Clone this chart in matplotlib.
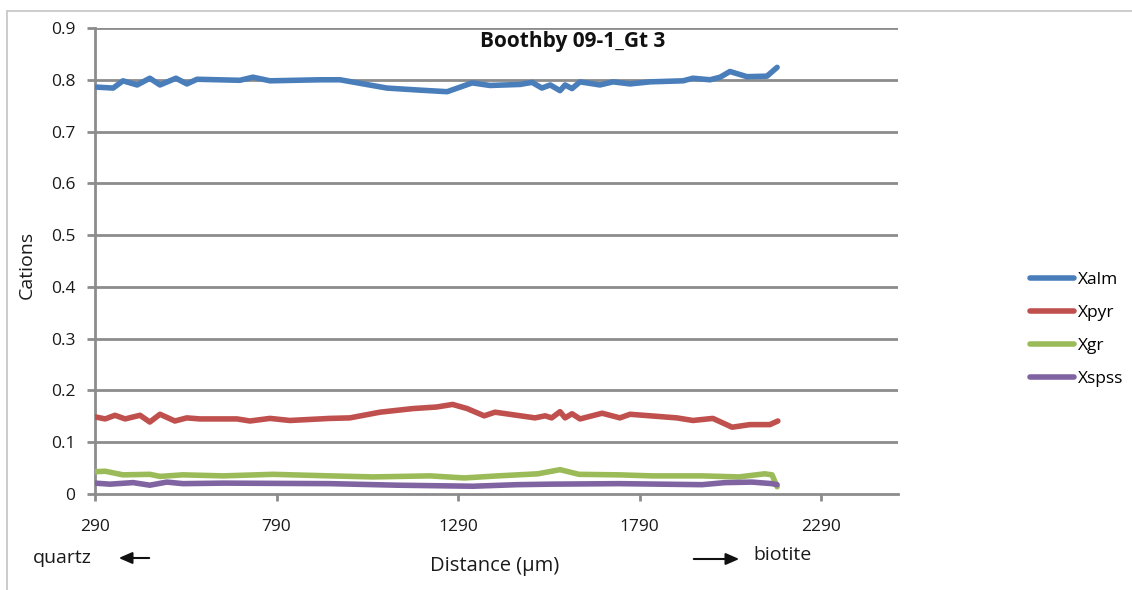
import matplotlib
matplotlib.use("Agg")
import matplotlib.pyplot as plt
from matplotlib.lines import Line2D
from matplotlib.patches import Rectangle, FancyArrowPatch

# Garnet traverse, Boothby 09-1 grain 3: end-member fractions vs distance
alm_x = [290, 340, 367, 406, 441, 469, 513, 543, 571, 689, 725, 772, 910, 965,
         1094, 1185, 1260, 1329, 1378, 1461, 1494, 1521, 1544, 1571, 1585, 1604,
         1626, 1681, 1717, 1764, 1819, 1910, 1937, 1984, 2012, 2039, 2086, 2141, 2169]
alm_y = [0.786, 0.784, 0.798, 0.790, 0.803, 0.790, 0.803, 0.792, 0.801, 0.799, 0.805,
         0.798, 0.800, 0.800, 0.784, 0.780, 0.777, 0.794, 0.789, 0.791, 0.795, 0.784,
         0.790, 0.779, 0.790, 0.783, 0.796, 0.790, 0.796, 0.792, 0.796, 0.798, 0.803,
         0.800, 0.805, 0.816, 0.806, 0.807, 0.824]

pyr_x = [290, 318, 345, 373, 414, 441, 469, 510, 543, 579, 681, 717, 772, 827, 937,
         992, 1075, 1166, 1231, 1275, 1315, 1362, 1392, 1502, 1530, 1548, 1571, 1585,
         1604, 1626, 1687, 1736, 1764, 1893, 1937, 1992, 2045, 2094, 2149, 2171]
pyr_y = [0.149, 0.145, 0.152, 0.145, 0.152, 0.139, 0.154, 0.141, 0.147, 0.145, 0.145,
         0.141, 0.146, 0.142, 0.146, 0.147, 0.158, 0.165, 0.168, 0.173, 0.165, 0.151,
         0.158, 0.147, 0.151, 0.147, 0.159, 0.147, 0.155, 0.145, 0.156, 0.147, 0.154,
         0.147, 0.142, 0.146, 0.129, 0.134, 0.134, 0.141]

gr_x = [290, 318, 367, 441, 469, 532, 643, 780, 937, 1056, 1213, 1307, 1400, 1510,
        1571, 1623, 1733, 1824, 1962, 2064, 2135, 2155, 2169]
gr_y = [0.043, 0.044, 0.037, 0.038, 0.034, 0.037, 0.035, 0.038, 0.035, 0.033, 0.035,
        0.031, 0.035, 0.039, 0.047, 0.038, 0.037, 0.035, 0.035, 0.033, 0.039, 0.037,
        0.014]

spss_x = [290, 331, 395, 441, 488, 532, 643, 937, 1122, 1331, 1452, 1544, 1733,
          1962, 2026, 2100, 2155, 2169]
spss_y = [0.021, 0.019, 0.022, 0.017, 0.023, 0.020, 0.021, 0.020, 0.017, 0.015,
          0.018, 0.019, 0.020, 0.018, 0.022, 0.023, 0.020, 0.018]

series_names = ["Xalm", "Xpyr", "Xgr", "Xspss"]
series_colors = ["#4A7EBB", "#C0504D", "#9BBB59", "#8064A2"]

x_ticks = [290, 790, 1290, 1790, 2290]
y_ticks = [0, 0.1, 0.2, 0.3, 0.4, 0.5, 0.6, 0.7, 0.8, 0.9]
y_tick_labels = ["0", "0.1", "0.2", "0.3", "0.4", "0.5", "0.6", "0.7", "0.8", "0.9"]

plt.rcParams["font.family"] = ["Open Sans", "DejaVu Sans"]

W, H = 1132, 590
fig = plt.figure(figsize=(W / 100, H / 100), dpi=100)
fig.patch.set_facecolor("white")

# outer chart frame
fig.add_artist(Rectangle((7 / W, -0.01), 1.2, 1 - 11 / H + 0.01, transform=fig.transFigure,
                         fill=False, edgecolor="#C4C4C4", linewidth=1.2))

ax = fig.add_axes([95 / W, 1 - 494 / H, (898 - 95) / W, (494 - 28) / H])
grid_col = "#8C8C8C"
text_col = "#1a1a1a"

for xs, ys, c, n in zip([alm_x, pyr_x, gr_x, spss_x], [alm_y, pyr_y, gr_y, spss_y],
                        series_colors, series_names):
    ax.plot(xs, ys, color=c, lw=4.0, solid_capstyle="round", solid_joinstyle="round",
            label=n, zorder=3)

ax.set_xlim(290, 2502)
ax.set_ylim(0, 0.9)
ax.set_yticks(y_ticks)
ax.set_yticklabels(y_tick_labels)
ax.set_xticks(x_ticks)
ax.set_xticklabels([str(v) for v in x_ticks])

for y in y_ticks[1:]:
    ax.axhline(y, color=grid_col, lw=2.0, zorder=1)

for s in ["top", "right"]:
    ax.spines[s].set_visible(False)
for s in ["left", "bottom"]:
    ax.spines[s].set_color(grid_col)
    ax.spines[s].set_linewidth(2.0)

ax.tick_params(axis="y", length=6, width=2.0, color=grid_col, labelsize=12.5,
               labelcolor=text_col, pad=8)
ax.tick_params(axis="x", length=5, width=2.0, color=grid_col, labelsize=12.5,
               labelcolor=text_col, pad=13)

fig.text(27 / W, 1 - 265 / H, "Cations", rotation=90, ha="center", va="center",
         fontsize=14, color=text_col)
fig.text(573 / W, 1 - 42 / H, "Boothby 09-1_Gt 3", ha="center", va="center",
         fontsize=15, fontweight="bold", color="#111111")
fig.text(495 / W, 1 - 566 / H, "Distance (\u00b5m)", ha="center", va="center",
         fontsize=14.5, color=text_col)
fig.text(33 / W, 1 - 558 / H, "quartz", ha="left", va="center", fontsize=14, color=text_col)
fig.text(753 / W, 1 - 555 / H, "biotite", ha="left", va="center", fontsize=14, color=text_col)

fig.add_artist(FancyArrowPatch(
    (152 / W, 1 - 558 / H), (116 / W, 1 - 558 / H), transform=fig.transFigure,
    arrowstyle="-|>,head_length=8,head_width=3.5", color="#111111", lw=1.5))
fig.add_artist(FancyArrowPatch(
    (691 / W, 1 - 559 / H), (742 / W, 1 - 559 / H), transform=fig.transFigure,
    arrowstyle="-|>,head_length=8,head_width=3.5", color="#111111", lw=1.5))

handles = [Line2D([], [], color=c, lw=4.0, solid_capstyle="round") for c in series_colors]
fig.legend(handles, series_names, loc="upper left",
           bbox_to_anchor=(1030 / W, 1 - 272 / H), frameon=False, fontsize=12.5,
           handlelength=2.55, handletextpad=0.2, labelspacing=0.97, borderpad=0,
           borderaxespad=0)

fig.savefig("out.png", dpi=100, facecolor="white")
